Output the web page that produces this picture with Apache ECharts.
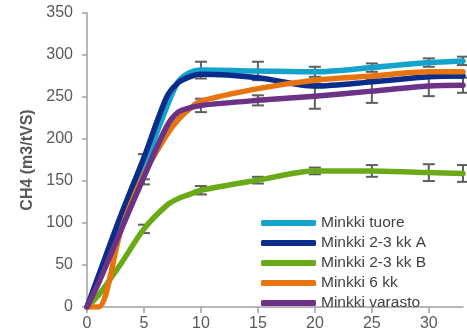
<!DOCTYPE html>
<html>
<head>
<meta charset="utf-8">
<script src="https://cdn.jsdelivr.net/npm/echarts@6/dist/echarts.min.js"></script>
<style>
html,body{margin:0;padding:0;background:#fff;}
#c{width:467px;height:336px;}
</style>
</head>
<body>
<div id="c"></div>
<script>
// ---- data ----
const days = [0, 1, 3, 5, 7, 8, 9, 10, 15, 20, 25, 30, 33];
const seriesNames = ['Minkki tuore', 'Minkki 2-3 kk A', 'Minkki 2-3 kk B', 'Minkki 6 kk', 'Minkki varasto'];
const tuore   = [0, 32, 100, 167, 238, 268, 279, 282, 281, 280, 285, 291, 293];
const kkA     = [0, 37, 110, 178, 250, 267, 274, 277, 273, 263, 268, 274, 275];
const kkB     = [0, 14, 52, 93, 121, 129, 134, 139, 151, 162, 162, 160, 159];
const kk6     = [0, 0, 92, 158, 205, 223, 236, 245, 260, 270, 275, 280, 280];
const varasto = [0, 28, 92, 155, 215, 232, 237, 240, 246, 251, 257, 263, 264];

// error bars (± half-range) at these days
const errDays   = [5, 10, 15, 20, 25, 30, 33];
const tuoreErr  = [15, 10, 11, 6, 5, 5, 5];
const kkBErr    = [5, 5, 4, 4, 7, 10, 10];
const varastoErr= [9, 8, 6, 15, 14, 12, 9];

const xTicks = [0, 5, 10, 15, 20, 25, 30];
const yTicks = [0, 50, 100, 150, 200, 250, 300, 350];

const colors = ['#14A3CB', '#0A2C8A', '#6AAA16', '#E8740E', '#6B3285'];

// ---- build ----
const allVals = [tuore, kkA, kkB, kk6, varasto];
function pairs(vals) { return days.map((d, i) => [d, vals[i]]); }
function errData(vals, errs) {
  return errDays.map((d, i) => {
    const v = vals[days.indexOf(d)];
    return [d, v - errs[i], v + errs[i]];
  });
}
function renderErr(params, api) {
  const x = api.value(0), lo = api.value(1), hi = api.value(2);
  const t = api.coord([x, hi]), b = api.coord([x, lo]);
  const hw = 6;
  const st = { stroke: '#5f5f5f', lineWidth: 2 };
  return { type: 'group', children: [
    { type: 'line', shape: { x1: t[0], y1: t[1], x2: b[0], y2: b[1] }, style: st },
    { type: 'line', shape: { x1: t[0] - hw, y1: t[1], x2: t[0] + hw, y2: t[1] }, style: st },
    { type: 'line', shape: { x1: b[0] - hw, y1: b[1], x2: b[0] + hw, y2: b[1] }, style: st }
  ]};
}

const series = [];
[[tuore, tuoreErr], [kkB, kkBErr], [varasto, varastoErr]].forEach(([v, e]) => {
  series.push({ type: 'custom', renderItem: renderErr, data: errData(v, e), z: 1, silent: true });
});
seriesNames.forEach((n, i) => {
  series.push({
    name: n, type: 'line', data: pairs(allVals[i]), smooth: 0.3,
    showSymbol: false, symbol: 'none', z: 2,
    lineStyle: { color: colors[i], width: 5.5, cap: 'round', join: 'round' },
    itemStyle: { color: colors[i] }
  });
});

const chart = echarts.init(document.getElementById('c'), null, { renderer: 'canvas' });
chart.setOption({
  animation: false,
  color: colors,
  grid: { left: 87, right: 4, top: 13, bottom: 29, containLabel: false },
  legend: {
    orient: 'vertical', left: 261, top: 215, padding: 0,
    itemWidth: 55, itemHeight: 6, itemGap: 4, icon: 'roundRect',
    data: seriesNames,
    textStyle: { fontFamily: 'Liberation Sans', fontSize: 15.5, color: '#404040', lineHeight: 15 }
  },
  xAxis: {
    type: 'value', min: 0, max: 33,
    axisLine: { show: true, lineStyle: { color: '#a0a0a0', width: 1.5 } },
    axisTick: { show: true, length: 6, customValues: xTicks, lineStyle: { color: '#a0a0a0', width: 1.5 } },
    axisLabel: { customValues: xTicks, fontFamily: 'Liberation Sans', fontSize: 16, color: '#595959', margin: 9 },
    splitLine: { show: false }
  },
  yAxis: {
    type: 'value', min: 0, max: 350, interval: 50,
    name: 'CH4 (m3/tVS)', nameLocation: 'middle', nameGap: 47, nameRotate: 90,
    nameTextStyle: { fontFamily: 'Liberation Sans', fontSize: 16, fontWeight: 'bold', color: '#595959' },
    axisLine: { show: true, lineStyle: { color: '#a0a0a0', width: 1.5 } },
    axisTick: { show: true, length: 5, lineStyle: { color: '#a0a0a0', width: 1.5 } },
    axisLabel: { customValues: yTicks, fontFamily: 'Liberation Sans', fontSize: 16, color: '#595959', margin: 14 },
    splitLine: { show: false }
  },
  series: series
});
</script>
</body>
</html>
